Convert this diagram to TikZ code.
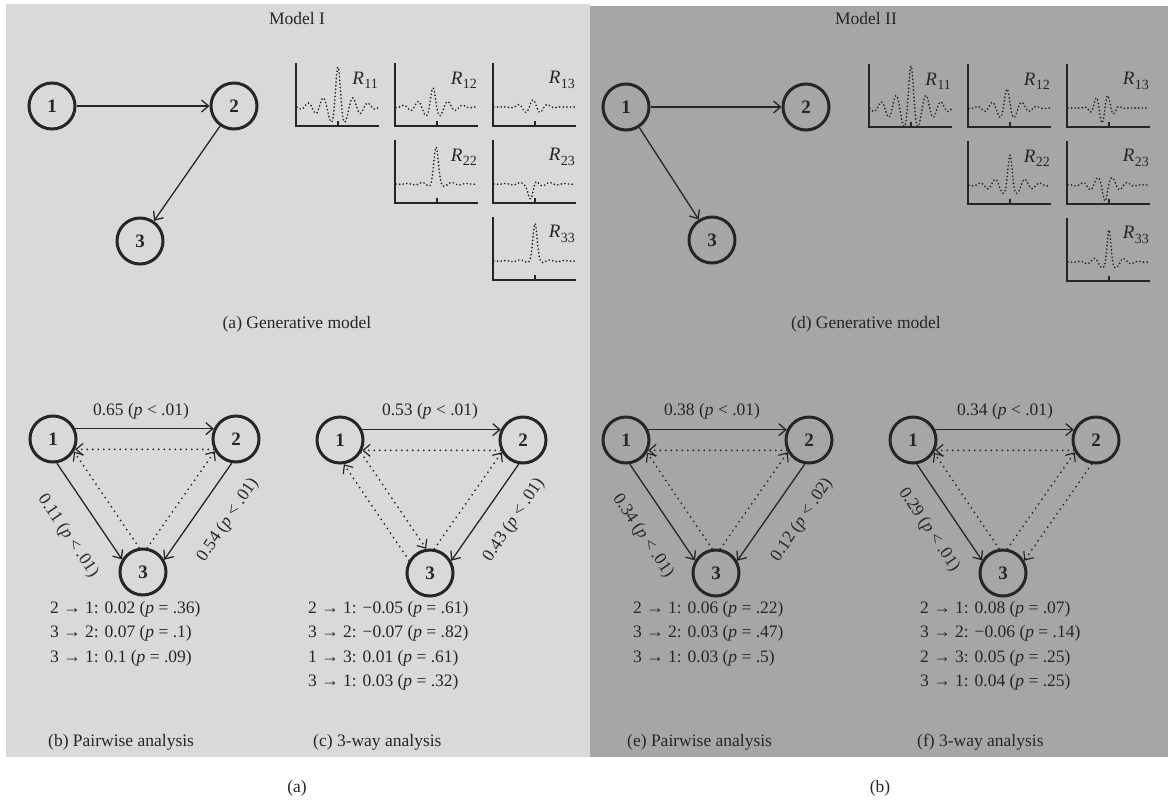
\documentclass[tikz,border=0pt]{standalone}
\usepackage{fontspec}
\setmainfont{Liberation Serif}
\usetikzlibrary{arrows.meta}
\definecolor{lightpanel}{HTML}{D9D9D9}
\definecolor{darkpanel}{HTML}{A6A6A6}
\definecolor{ink}{HTML}{262626}
\newcommand\Rlab[1]{{\fontsize{19}{19}\selectfont\textit{R}}\kern0.3pt\raisebox{-0.25em}{\fontsize{14}{14}\selectfont #1}}
\newcommand\corr[5]{%
  \draw[plotaxis] (#2,#3) -- (#2,#3+63) -- (#2+83,#3+63);
  \draw[plotaxis] (#2+42,#3+63) -- (#2+42,#3+58);
  \draw[sig] plot[domain=-41:40,samples=220,smooth] ({#2+42+\x},{#3+44-(#5)});
  \node[rlab] (#1) at (#2+83,#3+17) {\Rlab{#4}};
}
\newcommand\tri[3]{%
  \node[vert] (#1-1) at (#2,#3) {1};
  \node[vert] (#1-2) at (#2+183,#3) {2};
  \node[vert] (#1-3) at (#2+90,#3+133) {3};
}
\begin{document}
\begin{tikzpicture}[x=1pt,y=-1pt,
  declare function={g(\t,\w)=exp(max(-15,-((\t)*(\t))/((\w)*(\w))));},
  every node/.style={font=\fontsize{17.5}{21}\selectfont, text=ink},
  vert/.style={circle, draw=ink, line width=3pt, minimum size=46pt, inner sep=0pt, font=\fontsize{19}{19}\selectfont\bfseries},
  solidarr/.style={draw=ink, line width=1.3pt, -{Straight Barb[length=7pt,width=12pt]}},
  dotarr/.style={draw=ink, line width=2pt, line cap=round, dash pattern=on 0pt off 5.5pt, -{Straight Barb[length=7pt,width=12pt,line width=1.2pt]}},
  plotaxis/.style={draw=ink, line width=1.5pt},
  sig/.style={draw=ink, line width=1.9pt, line cap=round, dash pattern=on 0pt off 3.6pt},
  rlab/.style={anchor=east, inner sep=1pt},
  lab/.style={inner sep=1pt},
  listline/.style={anchor=base west, inner sep=0pt},
  captxt/.style={anchor=base, inner sep=0pt}
]
\useasboundingbox (0,0) rectangle (1168,801);
\fill[white] (0,0) rectangle (1168,801);
\fill[lightpanel] (6,4) rectangle (590,757);
\fill[darkpanel] (590,6) rectangle (1168,757);

% titles
\node[captxt] (tI) at (297,24) {Model I};
\node[captxt] (tII) at (866,24) {Model II};

% ---------- Model I generative model ----------
\node[vert] (g1) at (52,106) {1};
\node[vert] (g2) at (234,106) {2};
\node[vert] (g3) at (140,241) {3};
\draw[solidarr] (g1) -- (g2);
\draw[solidarr] (g2) -- (g3);

\corr{a11}{296}{63}{11}{(28*g(\x,5)+12*g(\x,28))*cos(24*\x)}
\corr{a12}{395}{63}{12}{(11*g(\x+4,5)+8*g(\x+4,24))*cos(24*(\x+4))}
\corr{a13}{493}{63}{13}{7*g(\x+2,14)*cos(24*(\x+2))}
\corr{a22}{395}{140}{22}{38*g(\x+1,3.3)+2*g(\x,25)*cos(24*\x)-3*g(\x+1,6)}
\corr{a23}{493}{140}{23}{-16*g(\x+4,3.5)+3*g(\x+1,4)+2*g(\x,25)*cos(24*\x)}
\corr{a33}{493}{217}{33}{36*g(\x,3)+1.5*g(\x,25)*cos(24*\x)}

\node[captxt] (capa) at (297,328) {(a) Generative model};

% ---------- Model II generative model ----------
\node[vert] (h1) at (626,107) {1};
\node[vert] (h2) at (806,107) {2};
\node[vert] (h3) at (712,240) {3};
\draw[solidarr] (h1) -- (h2);
\draw[solidarr] (h1) -- (h3);

\corr{d11}{869}{64}{11}{(26*g(\x,5)+16*g(\x,30))*cos(24*\x)}
\corr{d12}{968}{64}{12}{(10*g(\x+3,5)+9*g(\x+3,22))*cos(24*(\x+3))}
\corr{d13}{1067}{64}{13}{15*g(\x+6,11)*cos(30*(\x+1))}
\corr{d22}{968}{141}{22}{(22*g(\x,4)+8*g(\x,25))*cos(24*\x)}
\corr{d23}{1067}{141}{23}{-(8*g(\x+4,4)+8*g(\x+4,20))*cos(24*(\x+4))}
\corr{d33}{1067}{218}{33}{(26*g(\x,3.5)+6*g(\x,20))*cos(24*\x)}

\node[captxt] (capd) at (866,328) {(d) Generative model};

% ---------- (b) pairwise, Model I ----------
\tri{b}{53}{439}
\draw[solidarr] (b-1.25) -- (b-2.155);
\draw[dotarr] (b-2.205) -- (b-1.335);
\draw[solidarr] (b-1.-81) -- (b-3.149);
\draw[dotarr] (b-3.99) -- (b-1.-31);
\draw[dotarr] (b-3.80) -- (b-2.-150);
\draw[solidarr] (b-2.-100) -- (b-3.30);
\node[lab] (bl12) at (141,411) {0.65 (\textit{p} < .01)};
\node[lab, rotate=-56] (bl13) at (68,536) {0.11 (\textit{p} < .01)};
\node[lab, rotate=56] (bl23) at (228,520) {0.54 (\textit{p} < .01)};
\node[listline] (b-r1) at (50,613) {2 → 1: 0.02 (\textit{p} = .36)};
\node[listline] (b-r2) at (50,637.5) {3 → 2: 0.07 (\textit{p} = .1)};
\node[listline] (b-r3) at (50,662) {3 → 1: 0.1 (\textit{p} = .09)};
\node[listline] (capb) at (48,746) {(b) Pairwise analysis};

% ---------- (c) 3-way, Model I ----------
\tri{c}{340}{440}
\draw[solidarr] (c-1.25) -- (c-2.155);
\draw[dotarr] (c-2.205) -- (c-1.335);
\draw[dotarr] (c-1.-31) -- (c-3.99);
\draw[dotarr] (c-3.149) -- (c-1.-81);
\draw[dotarr] (c-3.80) -- (c-2.-150);
\draw[solidarr] (c-2.-100) -- (c-3.30);
\node[lab] (cl12) at (430,411) {0.53 (\textit{p} < .01)};
\node[lab, rotate=56] (cl23) at (514,520) {0.43 (\textit{p} < .01)};
\node[listline] (c-r1) at (308,613) {2 → 1: −0.05 (\textit{p} = .61)};
\node[listline] (c-r2) at (308,637.5) {3 → 2: −0.07 (\textit{p} = .82)};
\node[listline] (c-r3) at (308,662) {1 → 3: 0.01 (\textit{p} = .61)};
\node[listline] (c-r4) at (308,686.5) {3 → 1: 0.03 (\textit{p} = .32)};
\node[listline] (capc) at (313,746) {(c) 3-way analysis};

% ---------- (e) pairwise, Model II ----------
\tri{e}{626}{440}
\draw[solidarr] (e-1.25) -- (e-2.155);
\draw[dotarr] (e-2.205) -- (e-1.335);
\draw[solidarr] (e-1.-81) -- (e-3.149);
\draw[dotarr] (e-3.99) -- (e-1.-31);
\draw[dotarr] (e-3.80) -- (e-2.-150);
\draw[solidarr] (e-2.-100) -- (e-3.30);
\node[lab] (el12) at (712,411) {0.38 (\textit{p} < .01)};
\node[lab, rotate=-56] (el13) at (643,536) {0.34 (\textit{p} < .01)};
\node[lab, rotate=56] (el23) at (802,520) {0.12 (\textit{p} < .02)};
\node[listline] (e-r1) at (633,613) {2 → 1: 0.06 (\textit{p} = .22)};
\node[listline] (e-r2) at (633,637.5) {3 → 2: 0.03 (\textit{p} = .47)};
\node[listline] (e-r3) at (633,662) {3 → 1: 0.03 (\textit{p} = .5)};
\node[listline] (cape) at (627,746) {(e) Pairwise analysis};

% ---------- (f) 3-way, Model II ----------
\tri{f}{913}{440}
\draw[solidarr] (f-1.25) -- (f-2.155);
\draw[dotarr] (f-2.205) -- (f-1.335);
\draw[solidarr] (f-1.-81) -- (f-3.149);
\draw[dotarr] (f-3.99) -- (f-1.-31);
\draw[dotarr] (f-3.80) -- (f-2.-150);
\draw[dotarr] (f-2.-100) -- (f-3.30);
\node[lab] (fl12) at (1005,411) {0.34 (\textit{p} < .01)};
\node[lab, rotate=-56] (fl13) at (929,530) {0.29 (\textit{p} < .01)};
\node[listline] (f-r1) at (920,613) {2 → 1: 0.08 (\textit{p} = .07)};
\node[listline] (f-r2) at (920,637.5) {3 → 2: −0.06 (\textit{p} = .14)};
\node[listline] (f-r3) at (920,662) {2 → 3: 0.05 (\textit{p} = .25)};
\node[listline] (f-r4) at (920,686.5) {3 → 1: 0.04 (\textit{p} = .25)};
\node[listline] (capf) at (917,746) {(f) 3-way analysis};

% bottom labels
\node[captxt] (la) at (297,792) {(a)};
\node[captxt] (lb) at (880,792) {(b)};
\end{tikzpicture}
\end{document}
